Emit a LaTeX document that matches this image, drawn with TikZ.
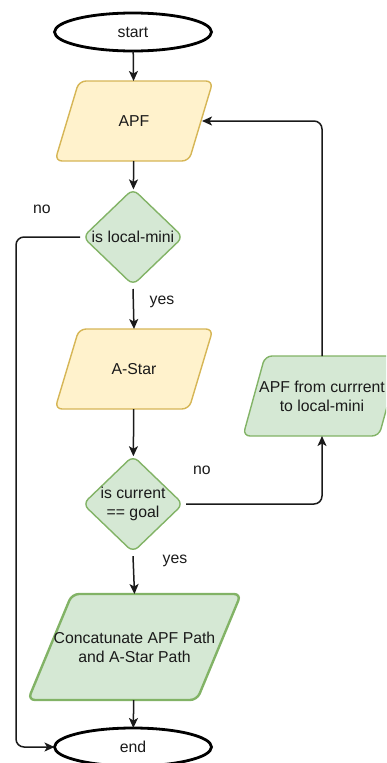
\documentclass[tikz,border=0pt]{standalone}
\usepackage{fontspec}
\setmainfont{Liberation Sans}
\usetikzlibrary{arrows.meta,shapes.geometric}
\definecolor{yfill}{HTML}{FFF2CC}
\definecolor{ydraw}{HTML}{D6B656}
\definecolor{gfill}{HTML}{D5E8D4}
\definecolor{gdraw}{HTML}{82B366}
\definecolor{ink}{HTML}{1A1A1A}
\tikzset{
  box/.style={inner sep=0pt, outer sep=0pt, align=center, font=\fontsize{15.8}{19}\selectfont, text=ink},
  term/.style={box, ellipse, draw=black, line width=2.8pt, fill=white, minimum width=157pt, minimum height=38pt},
  dec/.style={box, diamond, draw=gdraw, fill=gfill, line width=1.4pt, rounded corners=7pt, minimum width=100pt, minimum height=96pt, aspect=1.04},
  flow/.style={-{Stealth[length=10pt,width=9pt,inset=2.5pt]}, line width=1.5pt, ink},
  lbl/.style={font=\fontsize{15.8}{19}\selectfont, text=ink, inner sep=0pt}
}
\newcommand{\para}[7]{% name, x1, y1, x2, y2, slant, style
  \draw[#7, rounded corners=7pt] (#2+#6,#3) -- (#4,#3) -- (#4-#6,#5) -- (#2,#5) -- cycle;
}
\begin{document}
\begin{tikzpicture}[x=1pt,y=-1pt]
\useasboundingbox (0,0) rectangle (386,763);
\begin{scope}
\clip (0,0) rectangle (386,763);
% parallelogram bodies
\para{apf}{55}{81}{213}{161}{24}{draw=ydraw, fill=yfill, line width=1.4pt}
\para{astar}{55}{329}{213}{409}{24}{draw=ydraw, fill=yfill, line width=1.4pt}
\para{apfc}{243}{356}{401}{436}{22}{draw=gdraw, fill=gfill, line width=1.4pt}
\para{cat}{28}{594}{241}{700}{44}{draw=gdraw, fill=gfill, line width=2.4pt}

\node[term] (start) at (133,32) {start};
\node[box, minimum width=158pt, minimum height=80pt] (apf) at (134,121) {APF};
\node[dec] (loc) at (133,237) {is local-mini};
\node[box, minimum width=158pt, minimum height=80pt] (astar) at (134,369) {A-Star};
\node[dec] (goal) at (133,504) {is current\\== goal};
\node[box, minimum width=158pt, minimum height=80pt] (apfc) at (322,396) {APF from currrent\\to local-mini};
\node[box, minimum width=213pt, minimum height=106pt] (cat) at (134.5,647) {Concatunate APF Path\\and A-Star Path};
\node[term] (end) at (133,747) {end};

\coordinate (apfR) at (202,121);
\coordinate (c1) at (16,237);
\coordinate (c2) at (16,747);
\coordinate (c3) at (322,504);
\coordinate (c4) at (322,121);

\draw[flow] (start) -- (apf);
\draw[flow] (apf) -- (loc);
\draw[flow] (loc.south) ++(0,4) -- (astar.north);
\draw[flow] (astar) -- (goal);
\draw[flow] (goal.south) ++(0,4) -- (cat.north);
\draw[flow] (cat) -- (end);
\draw[flow, rounded corners=8pt] (loc.west) ++(-3,0) -- (c1) -- (c2) -- (end.west);
\draw[flow, rounded corners=8pt] (goal.east) ++(3,0) -- (c3) -- (apfc.south);
\draw[flow, rounded corners=8pt] (apfc.north) -- (c4) -- (apfR);

\node[lbl] (no1) at (42,209) {no};
\node[lbl] (yes1) at (162,302) {yes};
\node[lbl] (no2) at (202,470) {no};
\node[lbl] (yes2) at (175,561) {yes};
\end{scope}
\end{tikzpicture}
\end{document}
